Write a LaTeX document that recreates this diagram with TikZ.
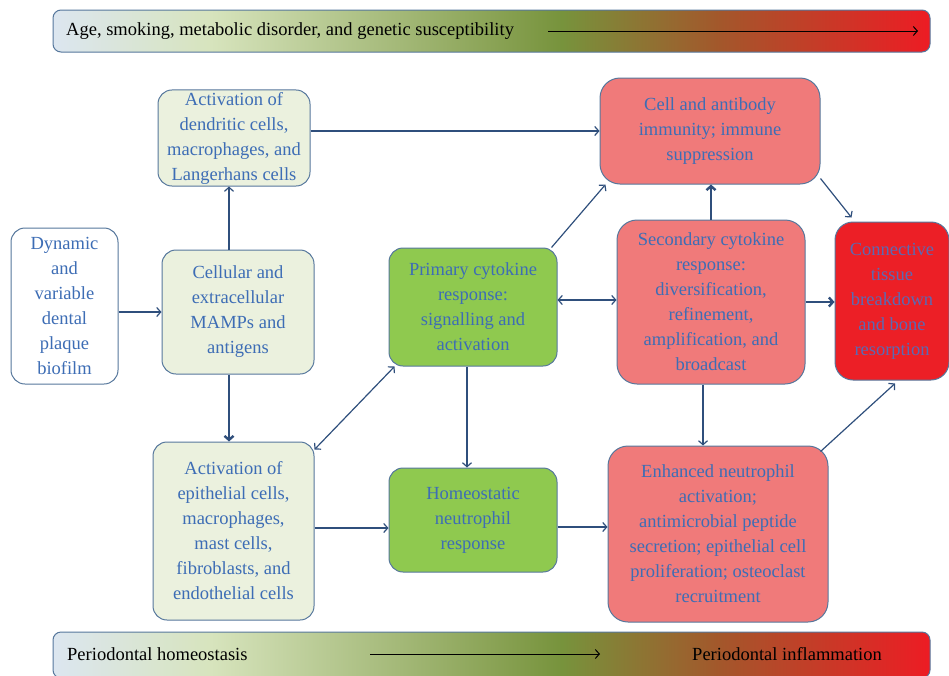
\documentclass[tikz,border=0pt]{standalone}
\usepackage{fontspec}
\setmainfont{Liberation Serif}
\usetikzlibrary{arrows.meta}
\definecolor{txtblue}{HTML}{3D6DB5}
\definecolor{tissuetxt}{HTML}{5A6AB4}
\definecolor{edgeblue}{HTML}{56779C}
\definecolor{arrblue}{HTML}{2F4F7C}
\definecolor{palegreen}{HTML}{EBF1DE}
\definecolor{leafgreen}{HTML}{8FC94F}
\definecolor{salmon}{HTML}{F07A7A}
\definecolor{bloodred}{HTML}{EC1F26}
\definecolor{barblue}{HTML}{DCE6F0}
\definecolor{barlight}{HTML}{D7E4BD}
\definecolor{barolive}{HTML}{77933C}
\definecolor{barbrown}{HTML}{A3572B}
\definecolor{barred}{HTML}{ED1C24}
\pgfdeclarehorizontalshading{trendshade}{100bp}{color(0bp)=(barblue); color(25bp)=(barblue); color(34bp)=(barlight); color(54bp)=(barolive); color(63bp)=(barbrown); color(75bp)=(barred); color(100bp)=(barred)}
\tikzset{
  box/.style={draw=edgeblue, line width=1pt, rounded corners=14pt, align=center,
    text=txtblue, font=\fontsize{18.5}{25}\selectfont, inner sep=2pt},
  palebox/.style={box, fill=palegreen},
  greenbox/.style={box, fill=leafgreen},
  pinkbox/.style={box, fill=salmon, rounded corners=20pt},
  redbox/.style={box, fill=bloodred, text=tissuetxt, rounded corners=18pt},
  link/.style={draw=arrblue, line width=1.2pt, -{Straight Barb[length=4pt,width=9pt]}},
  twolink/.style={link, {Straight Barb[length=4pt,width=9pt]}-{Straight Barb[length=4pt,width=9pt]}},
  biglink/.style={link, line width=2.4pt},
  bar/.style={draw=edgeblue, line width=1pt, rounded corners=8pt, shading=trendshade},
  bartext/.style={font=\fontsize{18.5}{22}\selectfont, text=black, anchor=west, inner sep=0pt},
  barline/.style={draw=black, line width=1pt, -{Straight Barb[length=4pt,width=9pt]}}
}
\begin{document}
\begin{tikzpicture}[x=1pt, y=-1pt]
\useasboundingbox (0,0) rectangle (949,675);

% gradient bars
\path[bar] (53,10) rectangle (930,52);
\path[bar] (53,632) rectangle (930,678);
\node[bartext] (risk) at (66,31) {Age, smoking, metabolic disorder, and genetic susceptibility};
\coordinate (riskstart) at (548,31);
\coordinate (riskend) at (918,31);
\draw[barline] (riskstart) -- (riskend);
\node[bartext] (homeostasis) at (67,654) {Periodontal homeostasis};
\node[bartext, anchor=east] (inflammation) at (882,654) {Periodontal inflammation};
\coordinate (shiftstart) at (370,654);
\coordinate (shiftend) at (600,654);
\draw[barline] (shiftstart) -- (shiftend);

% boxes
\node[palebox, minimum width=152pt, minimum height=96pt] (dend) at (234,138)
  {Activation of\\dendritic cells,\\macrophages, and\\Langerhans cells};
\node[box, fill=white, minimum width=107pt, minimum height=156pt] (plaque) at (64.5,306)
  {Dynamic\\and\\variable\\dental\\plaque\\biofilm};
\node[palebox, minimum width=152pt, minimum height=124pt] (mamps) at (238,312)
  {Cellular and\\extracellular\\MAMPs and\\antigens};
\node[palebox, minimum width=161pt, minimum height=178pt] (epi) at (233.5,531)
  {Activation of\\epithelial cells,\\macrophages,\\mast cells,\\fibroblasts, and\\endothelial cells};
\node[greenbox, minimum width=168pt, minimum height=118pt] (primary) at (473,307)
  {Primary cytokine\\response:\\signalling and\\activation};
\node[greenbox, minimum width=168pt, minimum height=104pt] (homeo) at (473,520)
  {Homeostatic\\neutrophil\\response};
\node[pinkbox, minimum width=220pt, minimum height=106pt] (immunity) at (710,131)
  {Cell and antibody\\immunity; immune\\suppression};
\node[pinkbox, minimum width=188pt, minimum height=164pt] (secondary) at (711,302)
  {Secondary cytokine\\response:\\diversification,\\refinement,\\amplification, and\\broadcast};
\node[redbox, minimum width=114pt, minimum height=158pt] (tissue) at (892,301)
  {Connective\\tissue\\breakdown\\and bone\\resorption};
\node[pinkbox, minimum width=220pt, minimum height=176pt] (neutro) at (718,534)
  {Enhanced neutrophil\\activation;\\antimicrobial peptide\\secretion; epithelial cell\\proliferation; osteoclast\\recruitment};

% connectors
\draw[link] ([yshift=7pt]dend.east) -- ([yshift=7pt]dend.east -| immunity.west);
\draw[link] ([xshift=-5pt]dend.south |- mamps.north) -- ([xshift=-5pt]dend.south);
\draw[link] (plaque.east |- mamps.west) -- (mamps.west);
\draw[biglink] ([xshift=-9pt]mamps.south) -- ([xshift=-9pt]mamps.south |- epi.north);
\draw[twolink] ([yshift=-8pt]epi.north east) -- ([xshift=6pt]primary.south west);
\draw[link] ([yshift=3pt]epi.east) -- ([yshift=3pt]epi.east -| homeo.west);
\draw[link] ([xshift=-6pt]primary.south) -- ([xshift=-6pt]primary.south |- homeo.north);
\draw[twolink] ([yshift=7pt]primary.east) -- ([yshift=7pt]primary.east -| secondary.west);
\draw[link] ([xshift=-6pt]primary.north east) -- ([xshift=6pt]immunity.south west);
\draw[biglink] (secondary.north) -- (secondary.north |- immunity.south);
\draw[link] ([yshift=6pt]immunity.south east) -- ([xshift=17pt,yshift=4pt]tissue.north west);
\draw[biglink] (secondary.east) -- (secondary.east -| tissue.west);
\draw[link] ([xshift=-8pt]secondary.south) -- ([xshift=-8pt]secondary.south |- neutro.north);
\draw[link] ([yshift=-7pt]homeo.east) -- ([yshift=-7pt]homeo.east -| neutro.west);
\draw[link] ([xshift=-8pt,yshift=-6pt]neutro.north east) -- ([xshift=3pt,yshift=-3pt]tissue.south);
\end{tikzpicture}
\end{document}
